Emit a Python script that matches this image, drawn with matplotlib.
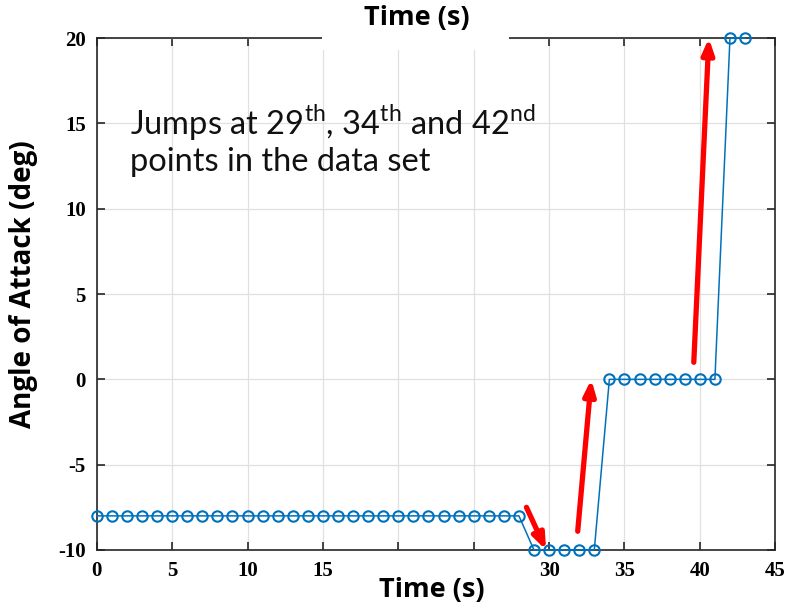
import numpy as np
import matplotlib
matplotlib.use('Agg')
import matplotlib.pyplot as plt
from matplotlib.patches import Rectangle

plt.rcParams['axes.unicode_minus'] = False
plt.rcParams['mathtext.fontset'] = 'custom'
plt.rcParams['mathtext.rm'] = 'Lato'

# data: angle of attack per sample
time = list(range(0, 44))
angle = [-8] * 29 + [-10] * 5 + [0] * 8 + [20] * 2

x_ticks = [0, 5, 10, 15, 20, 25, 30, 35, 40, 45]
y_ticks = [-10, -5, 0, 5, 10, 15, 20]

# red arrows (start x, start y, end x, end y)
arrow_start_x = [28.5, 31.9, 39.6]
arrow_start_y = [-7.5, -8.9, 1.0]
arrow_end_x = [29.8, 32.8, 40.6]
arrow_end_y = [-10.0, 0.0, 20.0]

note = 'Jumps at 29$^{\\mathrm{th}}$, 34$^{\\mathrm{th}}$ and 42$^{\\mathrm{nd}}$\npoints in the data set'

fig = plt.figure(figsize=(7.87, 6.08), dpi=100)
ax = fig.add_axes([0.123, 0.0954, 0.862, 0.842])

ax.plot(time, angle, color='#0072BD', linewidth=1.1, marker='o', markersize=7.5,
        markerfacecolor='none', markeredgewidth=1.5, clip_on=False, zorder=3)

for x0, y0, x1, y1 in zip(arrow_start_x, arrow_start_y, arrow_end_x, arrow_end_y):
    ax.annotate('', xy=(x1, y1), xytext=(x0, y0),
                arrowprops=dict(arrowstyle='-|>,head_length=0.9,head_width=0.35',
                                color='#FF0000', lw=3.8, shrinkA=0, shrinkB=0),
                annotation_clip=False, zorder=4)

ax.set_xlim(0, 45)
ax.set_ylim(-10, 20)
ax.set_xticks(x_ticks)
ax.set_yticks(y_ticks)
ax.grid(True, color='#E0E0E0', linewidth=0.9)
ax.set_axisbelow(True)
ax.tick_params(direction='in', top=True, right=True, length=6, width=1.2, color='#262626', pad=8)
for lab in ax.get_xticklabels() + ax.get_yticklabels():
    lab.set_fontfamily('Liberation Serif')
    lab.set_fontweight('bold')
    lab.set_fontsize(15)
for sp in ax.spines.values():
    sp.set_linewidth(1.2)
    sp.set_color('#262626')

# bottom label sits on a white box that hides the 20 and 25 tick labels
ax.set_xlabel('Time (s)', fontfamily='Open Sans', fontweight='bold', fontsize=19.5, va='center',
              bbox=dict(facecolor='white', edgecolor='none', boxstyle='square,pad=0.7'))
ax.xaxis.set_label_coords(0.494, -0.078)
ax.set_ylabel('Angle of Attack (deg)', fontfamily='Open Sans', fontweight='bold', fontsize=20,
              va='center')
ax.yaxis.set_label_coords(-0.108, 0.52)

ax.text(0.049, 0.875, note, transform=ax.transAxes, fontfamily='Lato', fontsize=23.5,
        va='top', ha='left', linespacing=1.2, color='#111111')

# top title pasted over the frame on a white patch
fig.add_artist(Rectangle((0.409, 0.918), 0.238, 0.082, transform=fig.transFigure,
                         facecolor='white', edgecolor='none', zorder=5))
fig.text(0.529, 0.971, 'Time (s)', ha='center', va='center', fontfamily='Open Sans',
         fontweight='bold', fontsize=19.5, zorder=6)

fig.savefig('out.png', dpi=100)
